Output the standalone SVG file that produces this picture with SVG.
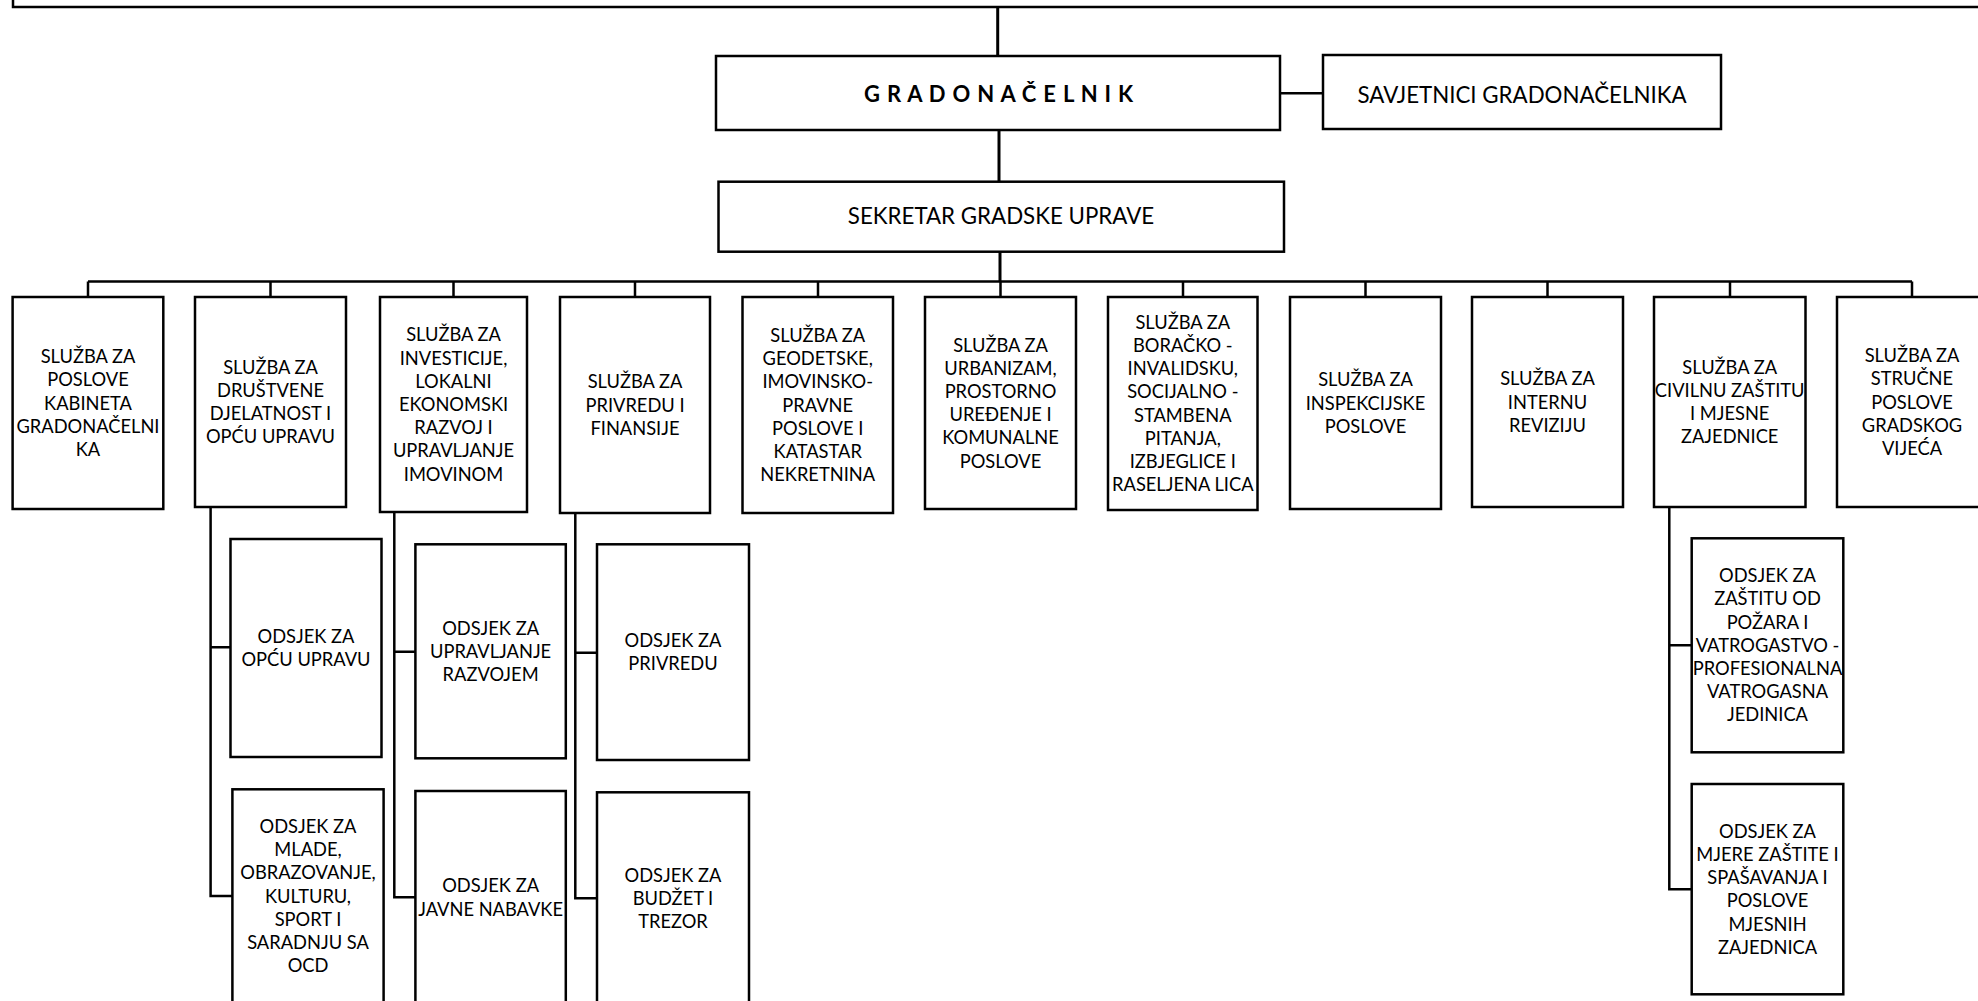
<svg xmlns="http://www.w3.org/2000/svg" width="1978" height="1001" viewBox="0 0 1978 1001">
<style>
.box{fill:#fff;stroke:#000;stroke-width:2.5}
.ln{fill:none;stroke:#000;stroke-width:2.5}
.t{font-family:Lato,"Open Sans",sans-serif;font-size:18.3px;fill:#000;text-anchor:middle}
.tl{font-family:Lato,"Open Sans",sans-serif;font-size:22.3px;fill:#000;text-anchor:middle}
.tb{font-family:Lato,"Open Sans",sans-serif;font-size:22px;font-weight:bold;fill:#000;text-anchor:middle;letter-spacing:0.8px}
</style>
<rect width="1978" height="1001" fill="#fff"/>
<g id="connectors">
<path class="ln" d="M997.7,7 V56" style="stroke-width:3"/>
<path class="ln" d="M1280,93.3 H1323"/>
<path class="ln" d="M999,130 V181.7" style="stroke-width:3"/>
<path class="ln" d="M1000,251.7 V281.5" style="stroke-width:3"/>
<path class="ln" d="M88,281.5 H1912"/>
<path class="ln" d="M88,281.5 V297 M270.5,281.5 V297 M453.5,281.5 V297 M635,281.5 V297 M818,281.5 V297 M1000.5,281.5 V297 M1183,281.5 V297 M1365.5,281.5 V297 M1547.5,281.5 V297 M1730,281.5 V297 M1912,281.5 V297"/>
<path class="ln" d="M210.6,507 V896 H232.4 M210.6,647.3 H230.5"/>
<path class="ln" d="M394.3,512 V897.3 H415.4 M394.3,651.7 H415.4"/>
<path class="ln" d="M575.3,513 V898.3 H597 M575.3,652.7 H597"/>
<path class="ln" d="M1669.3,507 V889.3 H1691.7 M1669.3,645.3 H1691.7"/>
</g>
<g id="top">
<rect class="box" x="13" y="-30" width="2000" height="37"/>
</g>
<g id="gradonacelnik">
<rect class="box" x="716" y="56" width="564" height="74"/>
<text class="tb" x="999" y="102">G R A D O N A Č E L N I K</text>
</g>
<g id="savjetnici">
<rect class="box" x="1323" y="55" width="398" height="74"/>
<text class="tl" x="1522" y="103">SAVJETNICI GRADONAČELNIKA</text>
</g>
<g id="sekretar">
<rect class="box" x="718.5" y="181.7" width="565.5" height="70"/>
<text class="tl" x="1001" y="224">SEKRETAR GRADSKE UPRAVE</text>
</g>
<g id="s1">
<rect class="box" x="12.6" y="297" width="150.7" height="212"/>
<text class="t" y="363.1"><tspan x="88">SLUŽBA ZA</tspan><tspan x="88" dy="23.2">POSLOVE</tspan><tspan x="88" dy="23.2">KABINETA</tspan><tspan x="88" dy="23.2">GRADONAČELNI</tspan><tspan x="88" dy="23.2">KA</tspan></text>
</g>
<g id="s2">
<rect class="box" x="195" y="297" width="151" height="210"/>
<text class="t" y="373.7"><tspan x="270.5">SLUŽBA ZA</tspan><tspan x="270.5" dy="23.2">DRUŠTVENE</tspan><tspan x="270.5" dy="23.2">DJELATNOST I</tspan><tspan x="270.5" dy="23.2">OPĆU UPRAVU</tspan></text>
</g>
<g id="s3">
<rect class="box" x="380" y="297" width="147" height="215"/>
<text class="t" y="341.4"><tspan x="453.5">SLUŽBA ZA</tspan><tspan x="453.5" dy="23.2">INVESTICIJE,</tspan><tspan x="453.5" dy="23.2">LOKALNI</tspan><tspan x="453.5" dy="23.2">EKONOMSKI</tspan><tspan x="453.5" dy="23.2">RAZVOJ I</tspan><tspan x="453.5" dy="23.2">UPRAVLJANJE</tspan><tspan x="453.5" dy="23.2">IMOVINOM</tspan></text>
</g>
<g id="s4">
<rect class="box" x="560" y="297" width="150" height="216"/>
<text class="t" y="388.3"><tspan x="635">SLUŽBA ZA</tspan><tspan x="635" dy="23.2">PRIVREDU I</tspan><tspan x="635" dy="23.2">FINANSIJE</tspan></text>
</g>
<g id="s5">
<rect class="box" x="742.5" y="297" width="150.5" height="216"/>
<text class="t" y="341.9"><tspan x="817.7">SLUŽBA ZA</tspan><tspan x="817.7" dy="23.2">GEODETSKE,</tspan><tspan x="817.7" dy="23.2">IMOVINSKO-</tspan><tspan x="817.7" dy="23.2">PRAVNE</tspan><tspan x="817.7" dy="23.2">POSLOVE I</tspan><tspan x="817.7" dy="23.2">KATASTAR</tspan><tspan x="817.7" dy="23.2">NEKRETNINA</tspan></text>
</g>
<g id="s6">
<rect class="box" x="925" y="297" width="151" height="212"/>
<text class="t" y="351.5"><tspan x="1000.5">SLUŽBA ZA</tspan><tspan x="1000.5" dy="23.2">URBANIZAM,</tspan><tspan x="1000.5" dy="23.2">PROSTORNO</tspan><tspan x="1000.5" dy="23.2">UREĐENJE I</tspan><tspan x="1000.5" dy="23.2">KOMUNALNE</tspan><tspan x="1000.5" dy="23.2">POSLOVE</tspan></text>
</g>
<g id="s7">
<rect class="box" x="1108" y="297" width="149.5" height="213"/>
<text class="t" y="328.8"><tspan x="1182.8">SLUŽBA ZA</tspan><tspan x="1182.8" dy="23.2">BORAČKO -</tspan><tspan x="1182.8" dy="23.2">INVALIDSKU,</tspan><tspan x="1182.8" dy="23.2">SOCIJALNO -</tspan><tspan x="1182.8" dy="23.2">STAMBENA</tspan><tspan x="1182.8" dy="23.2">PITANJA,</tspan><tspan x="1182.8" dy="23.2">IZBJEGLICE I</tspan><tspan x="1182.8" dy="23.2">RASELJENA LICA</tspan></text>
</g>
<g id="s8">
<rect class="box" x="1290" y="297" width="151" height="212"/>
<text class="t" y="386.3"><tspan x="1365.5">SLUŽBA ZA</tspan><tspan x="1365.5" dy="23.2">INSPEKCIJSKE</tspan><tspan x="1365.5" dy="23.2">POSLOVE</tspan></text>
</g>
<g id="s9">
<rect class="box" x="1472" y="297" width="151" height="210"/>
<text class="t" y="385.3"><tspan x="1547.5">SLUŽBA ZA</tspan><tspan x="1547.5" dy="23.2">INTERNU</tspan><tspan x="1547.5" dy="23.2">REVIZIJU</tspan></text>
</g>
<g id="s10">
<rect class="box" x="1654" y="297" width="151.5" height="210"/>
<text class="t" y="373.7"><tspan x="1729.7">SLUŽBA ZA</tspan><tspan x="1729.7" dy="23.2">CIVILNU ZAŠTITU</tspan><tspan x="1729.7" dy="23.2">I MJESNE</tspan><tspan x="1729.7" dy="23.2">ZAJEDNICE</tspan></text>
</g>
<g id="s11">
<rect class="box" x="1837" y="297" width="150" height="210"/>
<text class="t" y="362.1"><tspan x="1912">SLUŽBA ZA</tspan><tspan x="1912" dy="23.2">STRUČNE</tspan><tspan x="1912" dy="23.2">POSLOVE</tspan><tspan x="1912" dy="23.2">GRADSKOG</tspan><tspan x="1912" dy="23.2">VIJEĆA</tspan></text>
</g>
<g id="a1">
<rect class="box" x="230.5" y="539" width="151" height="218"/>
<text class="t" y="642.9"><tspan x="306">ODSJEK ZA</tspan><tspan x="306" dy="23.2">OPĆU UPRAVU</tspan></text>
</g>
<g id="a2">
<rect class="box" x="232.4" y="789.3" width="151.2" height="215"/>
<text class="t" y="832.9"><tspan x="308">ODSJEK ZA</tspan><tspan x="308" dy="23.2">MLADE,</tspan><tspan x="308" dy="23.2">OBRAZOVANJE,</tspan><tspan x="308" dy="23.2">KULTURU,</tspan><tspan x="308" dy="23.2">SPORT I</tspan><tspan x="308" dy="23.2">SARADNJU SA</tspan><tspan x="308" dy="23.2">OCD</tspan></text>
</g>
<g id="b1">
<rect class="box" x="415.4" y="544.3" width="150.4" height="214"/>
<text class="t" y="634.6"><tspan x="490.6">ODSJEK ZA</tspan><tspan x="490.6" dy="23.2">UPRAVLJANJE</tspan><tspan x="490.6" dy="23.2">RAZVOJEM</tspan></text>
</g>
<g id="b2">
<rect class="box" x="415.4" y="791" width="150.4" height="213"/>
<text class="t" y="892.4"><tspan x="490.6">ODSJEK ZA</tspan><tspan x="490.6" dy="23.2">JAVNE NABAVKE</tspan></text>
</g>
<g id="c1">
<rect class="box" x="597" y="544.3" width="152" height="215.7"/>
<text class="t" y="646.9"><tspan x="673">ODSJEK ZA</tspan><tspan x="673" dy="23.2">PRIVREDU</tspan></text>
</g>
<g id="c2">
<rect class="box" x="597" y="792.3" width="152" height="212"/>
<text class="t" y="881.6"><tspan x="673">ODSJEK ZA</tspan><tspan x="673" dy="23.2">BUDŽET I</tspan><tspan x="673" dy="23.2">TREZOR</tspan></text>
</g>
<g id="d1">
<rect class="box" x="1691.7" y="538.3" width="151.6" height="214"/>
<text class="t" y="582.2"><tspan x="1767.5">ODSJEK ZA</tspan><tspan x="1767.5" dy="23.2">ZAŠTITU OD</tspan><tspan x="1767.5" dy="23.2">POŽARA I</tspan><tspan x="1767.5" dy="23.2">VATROGASTVO -</tspan><tspan x="1767.5" dy="23.2">PROFESIONALNA</tspan><tspan x="1767.5" dy="23.2">VATROGASNA</tspan><tspan x="1767.5" dy="23.2">JEDINICA</tspan></text>
</g>
<g id="d2">
<rect class="box" x="1691.7" y="784" width="151.6" height="210.3"/>
<text class="t" y="837.7"><tspan x="1767.5">ODSJEK ZA</tspan><tspan x="1767.5" dy="23.2">MJERE ZAŠTITE I</tspan><tspan x="1767.5" dy="23.2">SPAŠAVANJA I</tspan><tspan x="1767.5" dy="23.2">POSLOVE</tspan><tspan x="1767.5" dy="23.2">MJESNIH</tspan><tspan x="1767.5" dy="23.2">ZAJEDNICA</tspan></text>
</g>
</svg>
